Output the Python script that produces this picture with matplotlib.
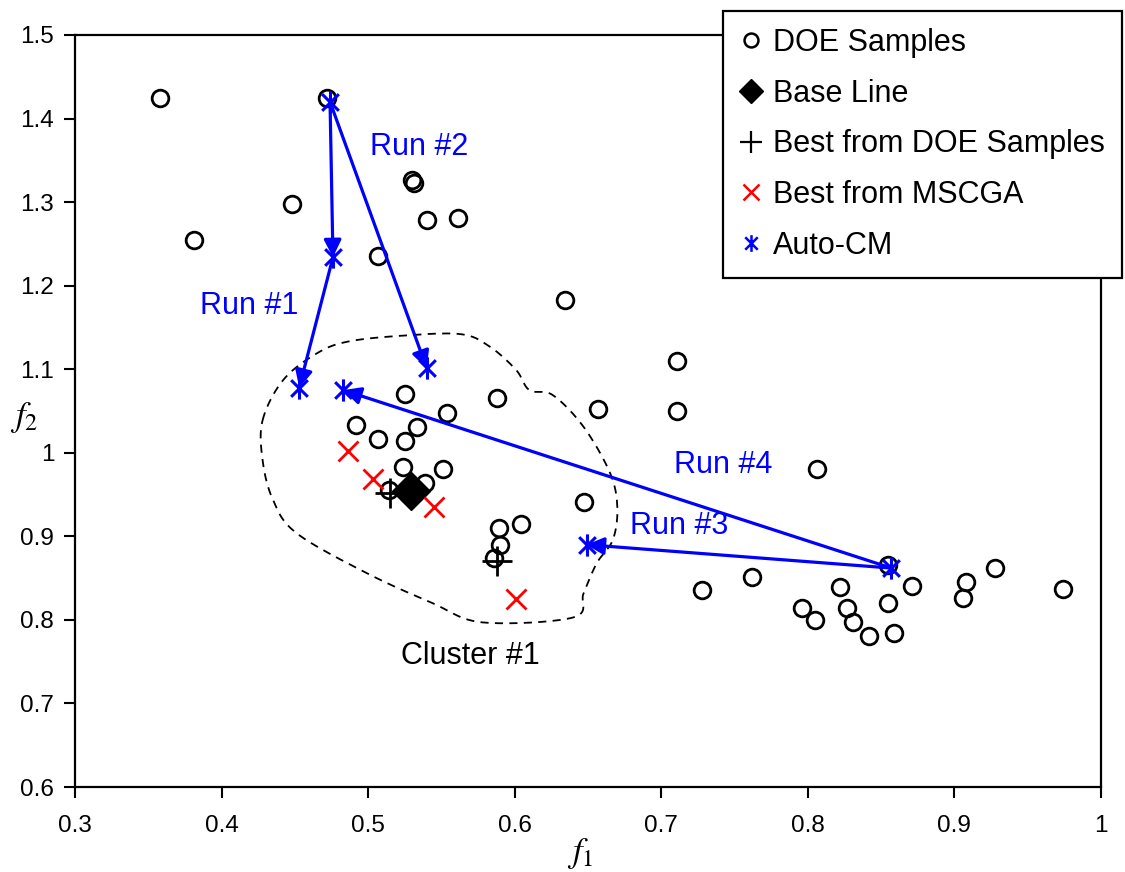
import numpy as np
import matplotlib
matplotlib.use("Agg")
import matplotlib.pyplot as plt
from matplotlib.path import Path
from matplotlib.lines import Line2D

# ---- data ----
doe_f1 = [0.358, 0.381, 0.448, 0.472, 0.507, 0.530, 0.531, 0.540, 0.561, 0.634,
          0.711, 0.711, 0.657, 0.588, 0.554, 0.525, 0.492, 0.507, 0.525, 0.533,
          0.524, 0.551, 0.539, 0.514, 0.647, 0.604, 0.589, 0.590, 0.586, 0.806,
          0.762, 0.728, 0.796, 0.805, 0.822, 0.827, 0.831, 0.842, 0.859, 0.855,
          0.855, 0.871, 0.908, 0.906, 0.928, 0.974]
doe_f2 = [1.425, 1.255, 1.298, 1.425, 1.236, 1.327, 1.323, 1.279, 1.281, 1.183,
          1.110, 1.050, 1.052, 1.066, 1.048, 1.070, 1.033, 1.017, 1.014, 1.031,
          0.983, 0.981, 0.964, 0.955, 0.941, 0.915, 0.910, 0.890, 0.874, 0.981,
          0.851, 0.836, 0.814, 0.800, 0.839, 0.814, 0.797, 0.781, 0.784, 0.820,
          0.866, 0.841, 0.845, 0.826, 0.862, 0.837]

base_f1 = [0.529]
base_f2 = [0.954]

best_doe_f1 = [0.515, 0.588]
best_doe_f2 = [0.952, 0.870]

mscga_f1 = [0.486, 0.503, 0.545, 0.601]
mscga_f2 = [1.002, 0.969, 0.935, 0.825]

auto_f1 = [0.474, 0.476, 0.453, 0.540, 0.857, 0.649, 0.483]
auto_f2 = [1.420, 1.234, 1.078, 1.101, 0.862, 0.890, 1.075]

# arrows as (start index, end index) into the Auto-CM points
run_arrows = [(0, 1), (1, 2), (0, 3), (4, 5), (4, 6)]
run_labels = ["Run #1", "Run #2", "Run #3", "Run #4"]
run_label_pos = [(0.419, 1.176), (0.535, 1.366), (0.712, 0.912), (0.742, 0.985)]

cluster_label = "Cluster #1"
cluster_label_pos = (0.570, 0.757)

cluster_f1 = [0.428, 0.442, 0.465, 0.486, 0.522, 0.563, 0.583, 0.601, 0.610, 0.626,
              0.647, 0.665, 0.670, 0.667, 0.656, 0.647, 0.640, 0.578, 0.544, 0.499,
              0.451, 0.435, 0.428]
cluster_f2 = [1.039, 1.087, 1.119, 1.133, 1.140, 1.142, 1.127, 1.099, 1.075, 1.069,
              1.031, 0.976, 0.935, 0.896, 0.868, 0.832, 0.803, 0.797, 0.820, 0.856,
              0.904, 0.944, 0.991]

x_ticks = [0.3, 0.4, 0.5, 0.6, 0.7, 0.8, 0.9, 1.0]
x_tick_labels = ["0.3", "0.4", "0.5", "0.6", "0.7", "0.8", "0.9", "1"]
y_ticks = [0.6, 0.7, 0.8, 0.9, 1.0, 1.1, 1.2, 1.3, 1.4, 1.5]
y_tick_labels = ["0.6", "0.7", "0.8", "0.9", "1", "1.1", "1.2", "1.3", "1.4", "1.5"]

BLUE = "#0000FF"
RED = "#FF0000"

plt.rcParams["font.family"] = ["Liberation Sans", "DejaVu Sans"]
plt.rcParams["mathtext.fontset"] = "stix"


def closed_spline(xs, ys, n=20):
    """Catmull-Rom smoothing of a closed outline."""
    P = np.column_stack([xs, ys])
    m = len(P)
    out = []
    for i in range(m):
        p0, p1, p2, p3 = P[(i - 1) % m], P[i], P[(i + 1) % m], P[(i + 2) % m]
        t = np.linspace(0, 1, n, endpoint=False)[:, None]
        seg = 0.5 * ((2 * p1) + (-p0 + p2) * t + (2 * p0 - 5 * p1 + 4 * p2 - p3) * t ** 2
                     + (-p0 + 3 * p1 - 3 * p2 + p3) * t ** 3)
        out.append(seg)
    out.append(P[:1])
    out = np.vstack(out)
    return out[:, 0], out[:, 1]


# six-armed asterisk marker: vertical bar plus an X
ast_verts = [(0, -1), (0, 1), (-0.75, -0.75), (0.75, 0.75), (-0.75, 0.75), (0.75, -0.75)]
ast_codes = [Path.MOVETO, Path.LINETO] * 3
asterisk = Path(ast_verts, ast_codes)

fig = plt.figure(figsize=(11.25, 8.72), dpi=100)
ax = fig.add_axes([75 / 1125, 1 - 787 / 872, (1101 - 75) / 1125, (787 - 35) / 872])

# cluster outline
cx, cy = closed_spline(cluster_f1, cluster_f2)
ax.plot(cx, cy, color="black", lw=1.3, ls=(0, (4.5, 3.5)), zorder=1)

# run arrows
for s, e in run_arrows:
    ax.annotate("", xy=(auto_f1[e], auto_f2[e]), xytext=(auto_f1[s], auto_f2[s]),
                arrowprops=dict(arrowstyle="-|>", color=BLUE, lw=2.3,
                                mutation_scale=26, shrinkA=0, shrinkB=0),
                zorder=3)

ax.plot(doe_f1, doe_f2, ls="none", marker="o", ms=12, mfc="none", mec="black", mew=2.0, zorder=2)
ax.plot(base_f1, base_f2, ls="none", marker="D", ms=19, mfc="black", mec="black", zorder=4)
ax.plot(best_doe_f1, best_doe_f2, ls="none", marker="+", ms=22, mec="black", mew=2.0, zorder=4)
ax.plot(mscga_f1, mscga_f2, ls="none", marker="x", ms=15, mec=RED, mew=2.0, zorder=4)
ax.plot(auto_f1, auto_f2, ls="none", marker=asterisk, ms=16, mec=BLUE, mfc="none", mew=2.2, zorder=5)

for text, (x, y) in zip(run_labels, run_label_pos):
    ax.text(x, y, text, color=BLUE, fontsize=22, ha="center", va="center")
ax.text(cluster_label_pos[0], cluster_label_pos[1], cluster_label, color="black",
        fontsize=22, ha="center", va="center")

ax.set_xlim(0.3, 1.0)
ax.set_ylim(0.6, 1.5)
ax.set_xticks(x_ticks)
ax.set_xticklabels(x_tick_labels)
ax.set_yticks(y_ticks)
ax.set_yticklabels(y_tick_labels)
ax.tick_params(axis="both", direction="out", length=8, width=1.5, labelsize=17.5)
ax.tick_params(axis="x", pad=12)
ax.tick_params(axis="y", pad=7)
for sp in ax.spines.values():
    sp.set_linewidth(1.6)

ax.set_xlabel("$f_1$", fontsize=25, va="center", ha="center")
ax.xaxis.set_label_coords(0.492, -0.088)
ax.set_ylabel("$f_2$", fontsize=25, rotation=0, va="center", ha="center")
ax.yaxis.set_label_coords(-0.050, 0.492)

handles = [
    Line2D([], [], ls="none", marker="o", ms=10, mfc="none", mec="black", mew=1.8),
    Line2D([], [], ls="none", marker="D", ms=12, mfc="black", mec="black"),
    Line2D([], [], ls="none", marker="+", ms=16, mec="black", mew=1.6),
    Line2D([], [], ls="none", marker="x", ms=12, mec=RED, mew=1.8),
    Line2D([], [], ls="none", marker=asterisk, ms=12, mec=BLUE, mfc="none", mew=1.8),
]
labels = ["DOE Samples", "Base Line", "Best from DOE Samples", "Best from MSCGA", "Auto-CM"]
leg = fig.legend(handles, labels, loc="upper left", bbox_to_anchor=(723 / 1125, 1 - 11 / 872),
                 fontsize=22, frameon=True, fancybox=False, edgecolor="black",
                 handlelength=0.75, handletextpad=0.35, labelspacing=0.68,
                 borderpad=0.55, borderaxespad=0.0, framealpha=1)
leg.get_frame().set_linewidth(1.6)

fig.savefig("out.png", dpi=100, facecolor="white")
